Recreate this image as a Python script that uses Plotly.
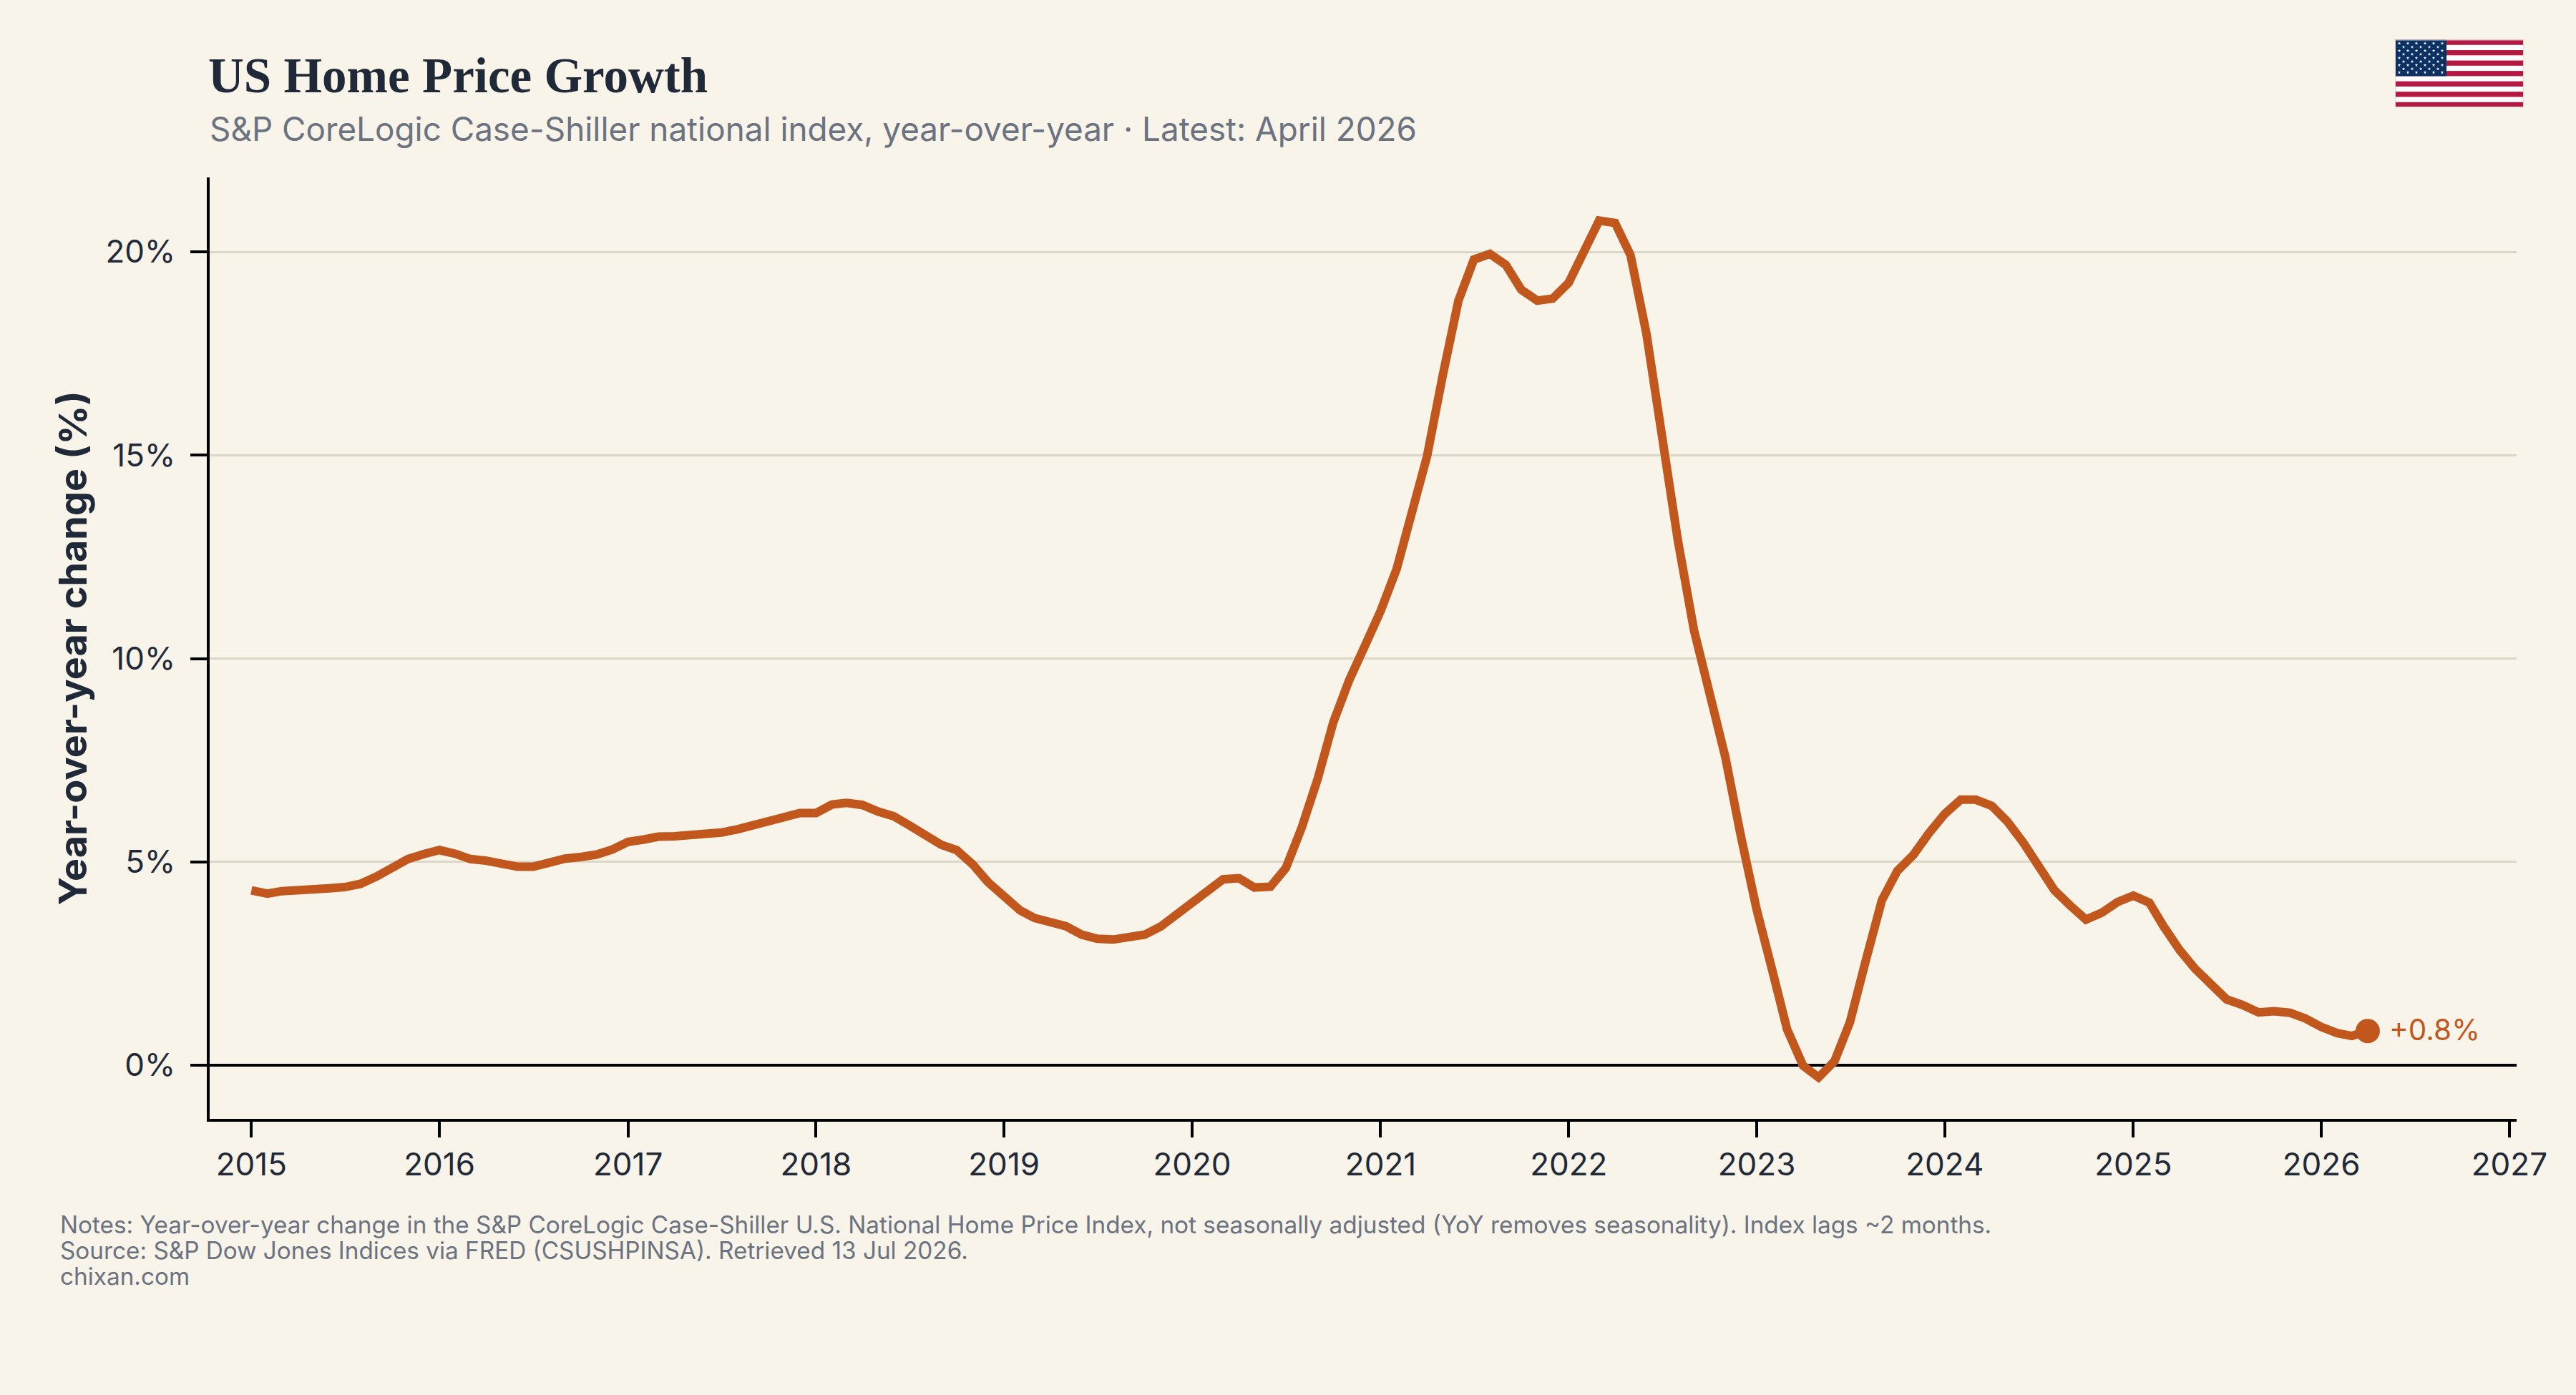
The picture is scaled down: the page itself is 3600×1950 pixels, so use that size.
import base64
from math import cos, sin, pi

import pandas as pd
import plotly.graph_objects as go

# Year-over-year change in the national home price index, monthly from January 2015
yoy_2015 = [4.30, 4.22, 4.28, 4.29, 4.35, 4.35, 4.38, 4.46, 4.64, 4.85, 5.07, 5.19]
yoy_2016 = [5.29, 5.20, 5.07, 5.03, 4.95, 4.88, 4.88, 4.98, 5.08, 5.12, 5.18, 5.30]
yoy_2017 = [5.49, 5.55, 5.62, 5.63, 5.65, 5.68, 5.72, 5.80, 5.89, 5.99, 6.07, 6.20]
yoy_2018 = [6.20, 6.41, 6.45, 6.40, 6.24, 6.12, 5.90, 5.64, 5.42, 5.29, 4.94, 4.50]
yoy_2019 = [4.13, 3.81, 3.62, 3.52, 3.42, 3.21, 3.11, 3.09, 3.16, 3.21, 3.41, 3.71]
yoy_2020 = [4.00, 4.29, 4.57, 4.60, 4.37, 4.39, 4.85, 5.85, 7.05, 8.43, 9.47, 10.30]
yoy_2021 = [11.17, 12.20, 13.60, 14.97, 16.93, 18.80, 19.81, 19.95, 19.68, 19.07, 18.80, 18.85]
yoy_2022 = [19.24, 20.00, 20.77, 20.71, 19.92, 17.98, 15.40, 12.90, 10.71, 9.15, 7.58, 5.65]
yoy_2023 = [3.82, 2.29, 0.88, -0.01, -0.30, 0.10, 1.06, 2.59, 4.06, 4.78, 5.17, 5.70]
yoy_2024 = [6.18, 6.53, 6.53, 6.38, 6.00, 5.48, 4.91, 4.30, 3.92, 3.58, 3.75, 4.01]
yoy_2025 = [4.17, 4.00, 3.41, 2.83, 2.37, 1.95, 1.62, 1.48, 1.30, 1.33, 1.29, 1.15]
yoy_2026 = [0.94, 0.79, 0.72, 0.84]

yoy = (yoy_2015 + yoy_2016 + yoy_2017 + yoy_2018 + yoy_2019 + yoy_2020
       + yoy_2021 + yoy_2022 + yoy_2023 + yoy_2024 + yoy_2025 + yoy_2026)
months = pd.date_range("2015-01-01", periods=len(yoy), freq="MS")

y_ticks = [0, 5, 10, 15, 20]
y_tick_labels = ["0%", "5%", "10%", "15%", "20%"]

TITLE = "US Home Price Growth"
SUBTITLE = "S&P CoreLogic Case-Shiller national index, year-over-year · Latest: April 2026"
FOOTNOTES = [
    "Notes: Year-over-year change in the S&P CoreLogic Case-Shiller U.S. National Home Price Index, "
    "not seasonally adjusted (YoY removes seasonality). Index lags ~2 months.",
    "Source: S&P Dow Jones Indices via FRED (CSUSHPINSA). Retrieved 13 Jul 2026.",
    "chixan.com",
]

WIDTH, HEIGHT = 3600, 1950
# Plotly draws axis lines just outside the plot area
LEFT, RIGHT, TOP, BOTTOM = 293, 3517, 248, 1564

BG = "#F9F4EA"
INK = "#1F2937"
MUTED = "#6B7280"
ACCENT = "#C1571D"
GRID = "#DDD7C9"
SANS = "Inter"


def px_x(px):
    return (px - LEFT) / (RIGHT - LEFT)


def px_y(py):
    return (BOTTOM - py) / (BOTTOM - TOP)


def star(cx, cy, r):
    pts = []
    for i in range(10):
        rad = r if i % 2 == 0 else r * 0.382
        a = -pi / 2 + i * pi / 5
        pts.append(f"{cx + rad * cos(a):.2f},{cy + rad * sin(a):.2f}")
    return f'<polygon points="{" ".join(pts)}" fill="#fff"/>'


def flag_svg():
    w, h = 190.0, 100.0
    parts = [f'<svg xmlns="http://www.w3.org/2000/svg" width="{w:.0f}" height="{h:.0f}" '
             f'viewBox="0 0 {w:.0f} {h:.0f}">', f'<rect width="{w}" height="{h}" fill="#fff"/>']
    band = h / 13
    for i in range(0, 13, 2):
        parts.append(f'<rect y="{i * band:.3f}" width="{w}" height="{band:.3f}" fill="#B31942"/>')
    cw, ch = w * 0.4, band * 7
    parts.append(f'<rect width="{cw}" height="{ch:.3f}" fill="#0A3161"/>')
    for row in range(9):
        n = 6 if row % 2 == 0 else 5
        for col in range(n):
            cx = cw * (col * 2 + (1 if row % 2 == 0 else 2)) / 12
            cy = ch * (row + 1) / 10
            parts.append(star(cx, cy, 2.6))
    # faint outline around the flag
    parts.append(f'<rect x="0.5" y="0.5" width="{w - 1}" height="{h - 1}" fill="none" '
                 'stroke="#E3DCD6" stroke-width="1"/>')
    parts.append("</svg>")
    return "".join(parts)


flag_uri = "data:image/svg+xml;base64," + base64.b64encode(flag_svg().encode()).decode()

fig = go.Figure()
fig.add_trace(go.Scatter(
    x=months, y=yoy, mode="lines",
    line=dict(color=ACCENT, width=12, shape="linear"),
    hoverinfo="x+y", showlegend=False,
))
fig.add_trace(go.Scatter(
    x=[months[-1]], y=[yoy[-1]], mode="markers",
    marker=dict(color=ACCENT, size=34),
    showlegend=False, cliponaxis=False,
))

annotations = [
    dict(text=f"{yoy[-1]:+.1f}%", xref="x", yref="y", x=months[-1], y=yoy[-1], xshift=28, yshift=2,
         xanchor="left", yanchor="middle", showarrow=False,
         font=dict(family=SANS, size=40.5, color=ACCENT)),
    dict(text=SUBTITLE, xref="paper", yref="paper", x=px_x(291), y=px_y(181), xanchor="left",
         yanchor="middle", showarrow=False, font=dict(family=SANS, size=45.8, color=MUTED)),
]
for line, py in zip(FOOTNOTES, [1712, 1748, 1784]):
    annotations.append(dict(text=line, xref="paper", yref="paper", x=px_x(82), y=px_y(py),
                            xanchor="left", yanchor="middle", showarrow=False, align="left",
                            font=dict(family=SANS, size=33.3, color=MUTED)))

fig.update_layout(
    width=WIDTH, height=HEIGHT, autosize=False,
    margin=dict(l=LEFT, r=WIDTH - RIGHT, t=TOP, b=HEIGHT - BOTTOM, pad=0),
    paper_bgcolor=BG, plot_bgcolor=BG,
    title=dict(
        text=f"<b>{TITLE}</b>", xref="container", yref="container",
        x=291 / WIDTH, y=1 - 105 / HEIGHT, xanchor="left", yanchor="middle",
        font=dict(family="Liberation Serif", size=69, color=INK),
    ),
    xaxis=dict(
        type="date", range=["2014-10-12", "2027-01-15"],
        dtick="M12", tick0="2015-01-01", tickformat="%Y",
        ticks="outside", ticklen=22, tickwidth=4, tickcolor="#000",
        showline=True, linecolor="#000", linewidth=4, showgrid=False, zeroline=False,
        tickfont=dict(family=SANS, size=44, color=INK), ticklabelstandoff=0,
    ),
    yaxis=dict(
        range=[-1.319, 21.83], tickvals=y_ticks, ticktext=y_tick_labels,
        ticks="outside", ticklen=23, tickwidth=4, tickcolor="#000",
        showline=True, linecolor="#000", linewidth=4,
        showgrid=True, gridcolor=GRID, gridwidth=3,
        zeroline=True, zerolinecolor="#000", zerolinewidth=4,
        tickfont=dict(family=SANS, size=44, color=INK), ticklabelstandoff=12,
        title=dict(text="<b>Year-over-year change (%)</b>", standoff=10,
                   font=dict(family=SANS, size=54, color=INK)),
    ),
    images=[dict(source=flag_uri, xref="paper", yref="paper",
                 x=px_x(3347), y=px_y(55.5), sizex=180 / (RIGHT - LEFT), sizey=94.5 / (BOTTOM - TOP),
                 xanchor="left", yanchor="top", sizing="stretch", layer="above")],
    annotations=annotations,
    showlegend=False,
)

fig.write_html("out.html", config={"displayModeBar": False})
